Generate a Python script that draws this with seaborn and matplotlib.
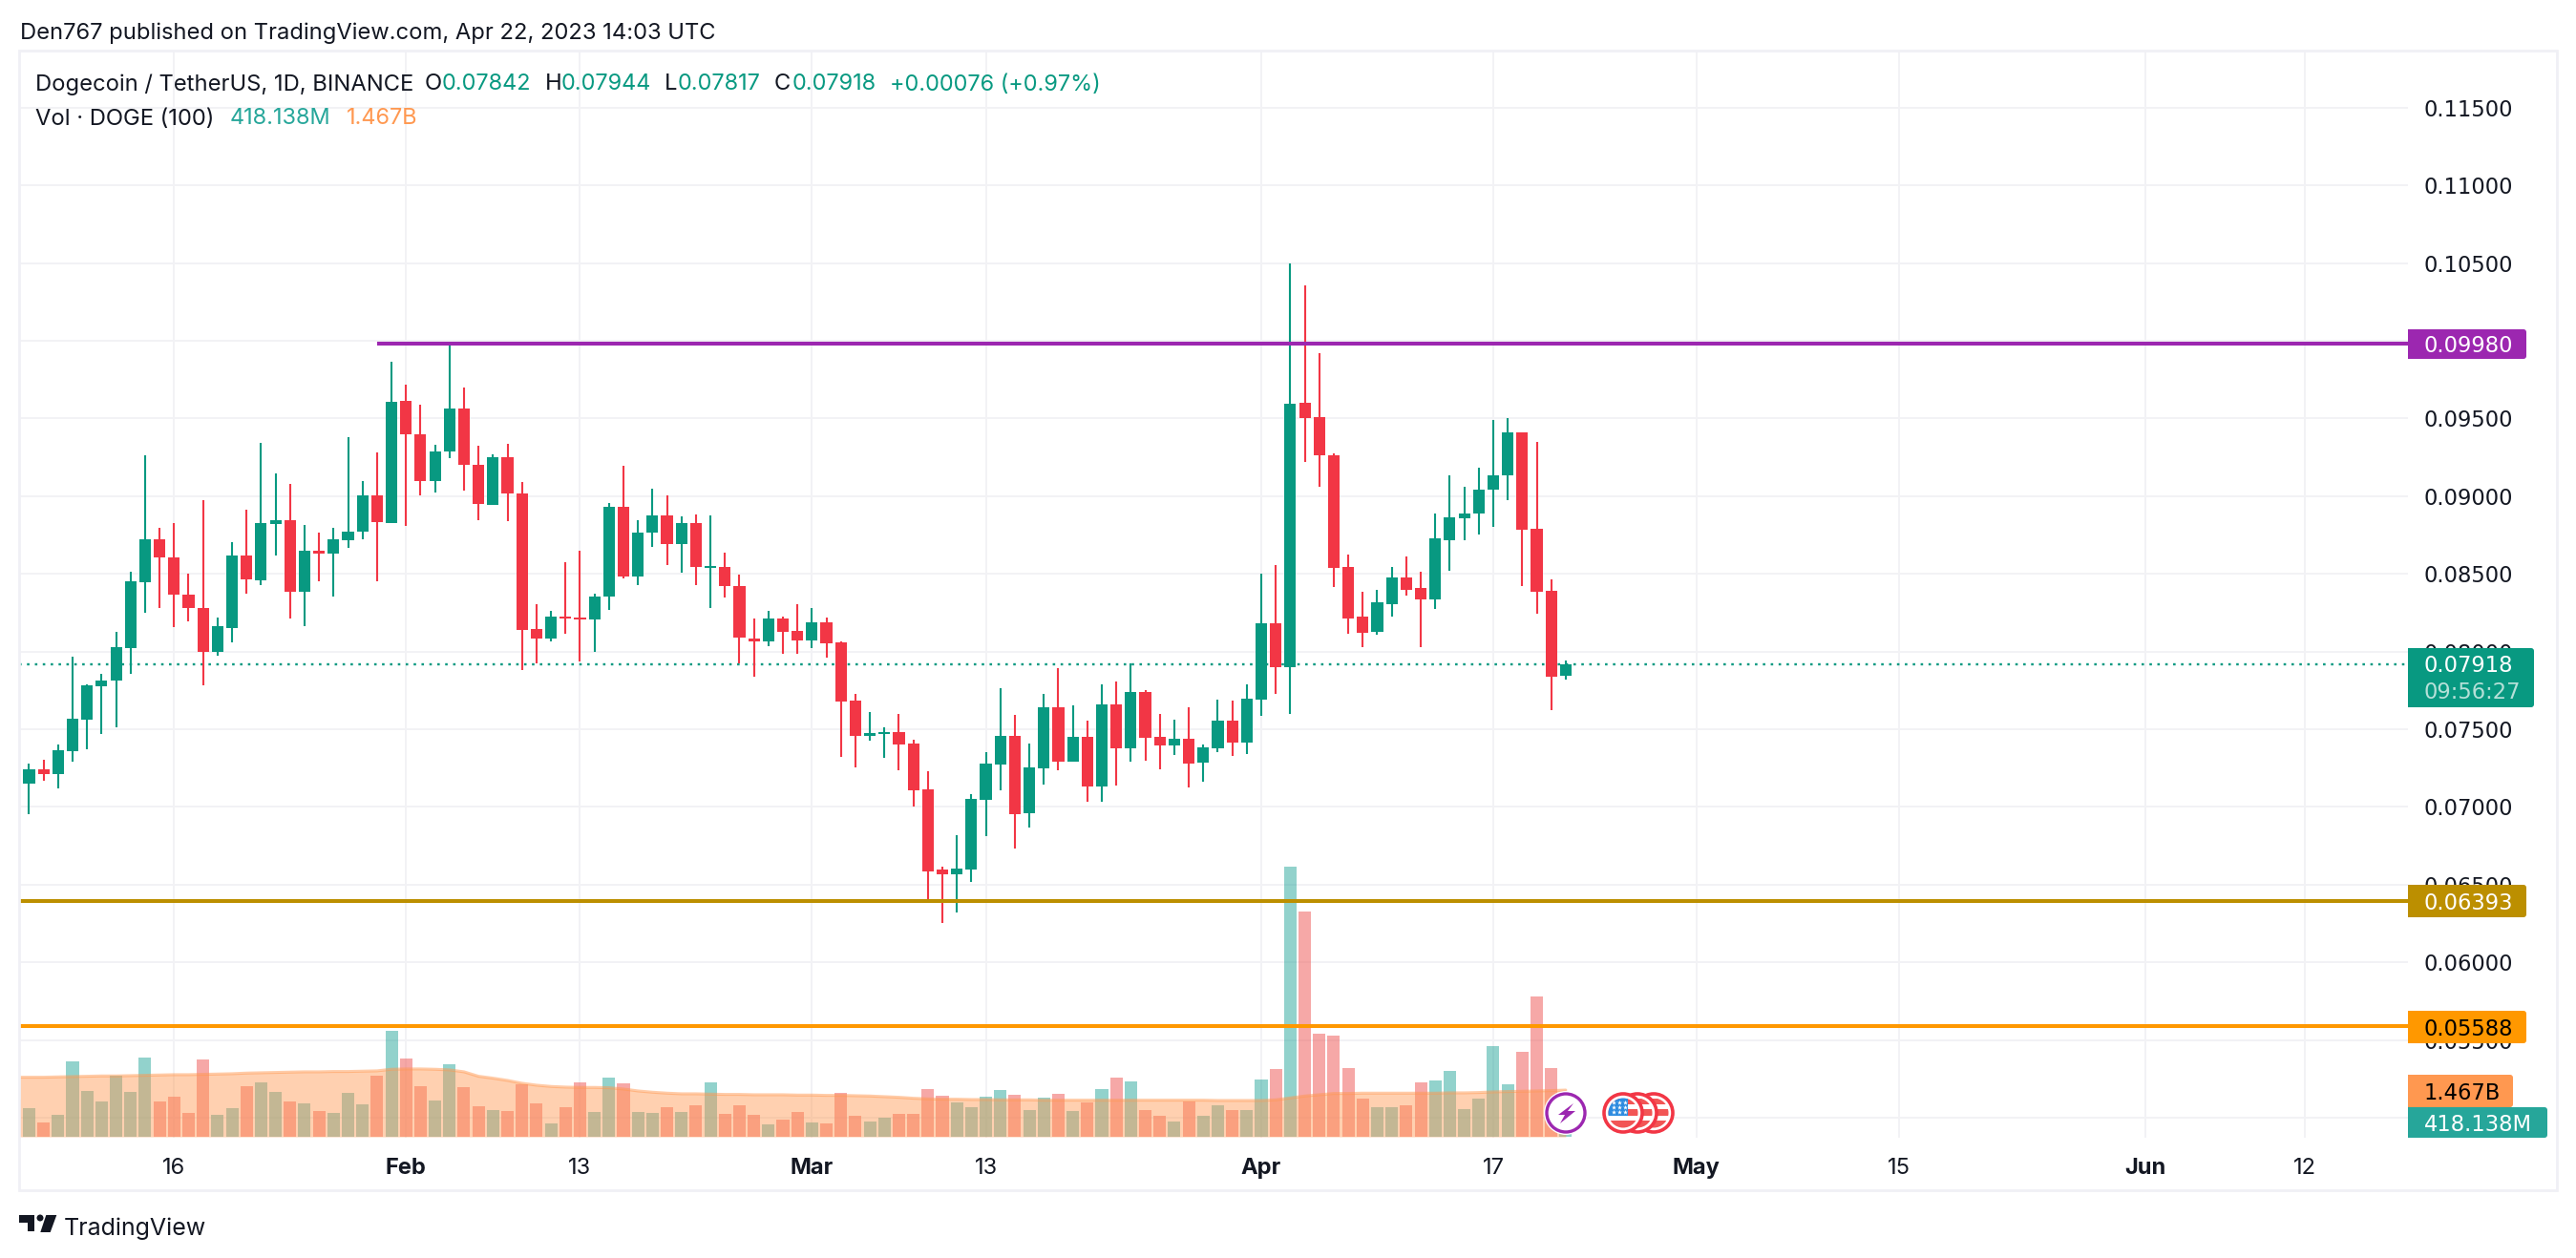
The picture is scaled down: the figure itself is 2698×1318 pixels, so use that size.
import numpy as np
import pandas as pd
import matplotlib
matplotlib.use("Agg")
import matplotlib.pyplot as plt
from matplotlib.patches import Circle, FancyBboxPatch, Polygon, Rectangle
import seaborn as sns

# daily DOGE/USDT candles (day 0 = Jan 6)
opens = [0.07147, 0.07241, 0.07213, 0.07360, 0.07563, 0.07777, 0.07812, 0.08023, 0.08445, 0.08725, 0.08608, 0.08369, 0.08283, 0.07998, 0.08150, 0.08615, 0.08460, 0.08819, 0.08847, 0.08384, 0.08651, 0.08628, 0.08714, 0.08770, 0.09007, 0.08824,
         0.09614, 0.09400, 0.09096, 0.09286, 0.09566, 0.09202, 0.08946, 0.09253, 0.09014, 0.08143, 0.08084, 0.08222, 0.08216, 0.08206, 0.08354, 0.08928, 0.08481, 0.08765, 0.08877, 0.08689, 0.08828, 0.08536, 0.08546, 0.08424, 0.08086, 0.08068, 0.08215, 0.08135,
         0.08074, 0.08190, 0.08056, 0.07682, 0.07455, 0.07467, 0.07479, 0.07406, 0.07111, 0.06596, 0.06566, 0.06596, 0.07044, 0.07271, 0.07455, 0.06958, 0.07246, 0.07639, 0.07289, 0.07449, 0.07130, 0.07657, 0.07375, 0.07737, 0.07449, 0.07393, 0.07436, 0.07283, 0.07375, 0.07553, 0.07412,
         0.07691, 0.08180, 0.07899, 0.09603, 0.09511, 0.09265, 0.08542, 0.08222, 0.08129, 0.08307, 0.08474, 0.08406, 0.08338, 0.08719, 0.08860, 0.08886, 0.09039, 0.09132, 0.09412, 0.08787, 0.08388, 0.07842]
highs = [0.07279, 0.07302, 0.07401, 0.07965, 0.07787, 0.07856, 0.08125, 0.08516, 0.09263, 0.08793, 0.08829, 0.08504, 0.08976, 0.08216, 0.08702, 0.08910, 0.09345, 0.09149, 0.09080, 0.08816, 0.08768, 0.08798, 0.09380, 0.09098, 0.09284, 0.09865,
         0.09718, 0.09588, 0.09332, 0.09972, 0.09700, 0.09327, 0.09271, 0.09337, 0.09093, 0.08303, 0.08260, 0.08577, 0.08646, 0.08369, 0.08958, 0.09197, 0.08847, 0.09050, 0.09002, 0.08871, 0.08883, 0.08877, 0.08638, 0.08497, 0.08215, 0.08264, 0.08227, 0.08307,
         0.08283, 0.08221, 0.08062, 0.07725, 0.07608, 0.07510, 0.07596, 0.07430, 0.07228, 0.06615, 0.06817, 0.07081, 0.07350, 0.07761, 0.07590, 0.07406, 0.07725, 0.07890, 0.07651, 0.07553, 0.07786, 0.07810, 0.07921, 0.07749, 0.07596, 0.07559, 0.07639, 0.07400, 0.07688, 0.07682, 0.07786,
         0.08498, 0.08559, 0.10500, 0.10353, 0.09917, 0.09272, 0.08621, 0.08382, 0.08395, 0.08542, 0.08610, 0.08511, 0.08886, 0.09136, 0.09057, 0.09180, 0.09487, 0.09500, 0.09412, 0.09351, 0.08467, 0.07944]
lows = [0.06951, 0.07167, 0.07119, 0.07294, 0.07370, 0.07469, 0.07513, 0.07856, 0.08247, 0.08277, 0.08155, 0.08191, 0.07782, 0.07970, 0.08056, 0.08369, 0.08430, 0.08620, 0.08211, 0.08161, 0.08450, 0.08351, 0.08669, 0.08725, 0.08450, 0.08824,
        0.08811, 0.09007, 0.09024, 0.09245, 0.09037, 0.08847, 0.08941, 0.08841, 0.07881, 0.07922, 0.08064, 0.08112, 0.07934, 0.08000, 0.08265, 0.08468, 0.08430, 0.08676, 0.08559, 0.08509, 0.08430, 0.08283, 0.08350, 0.07921, 0.07835, 0.08037, 0.07988, 0.07988,
        0.08019, 0.07958, 0.07320, 0.07252, 0.07424, 0.07314, 0.07234, 0.07001, 0.06394, 0.06253, 0.06320, 0.06517, 0.06811, 0.07105, 0.06731, 0.06866, 0.07142, 0.07234, 0.07289, 0.07032, 0.07032, 0.07136, 0.07289, 0.07295, 0.07240, 0.07332, 0.07124, 0.07160, 0.07350, 0.07326, 0.07338,
        0.07584, 0.07726, 0.07598, 0.09217, 0.09057, 0.08412, 0.08112, 0.08031, 0.08105, 0.08222, 0.08358, 0.08031, 0.08276, 0.08522, 0.08713, 0.08750, 0.08805, 0.08972, 0.08419, 0.08246, 0.07621, 0.07817]
closes = [0.07241, 0.07213, 0.07365, 0.07566, 0.07782, 0.07812, 0.08026, 0.08450, 0.08725, 0.08603, 0.08366, 0.08280, 0.07998, 0.08161, 0.08615, 0.08463, 0.08824, 0.08847, 0.08384, 0.08651, 0.08628, 0.08720, 0.08773, 0.09007, 0.08831, 0.09609,
          0.09395, 0.09096, 0.09289, 0.09566, 0.09200, 0.08948, 0.09253, 0.09017, 0.08140, 0.08084, 0.08222, 0.08214, 0.08206, 0.08356, 0.08928, 0.08481, 0.08768, 0.08877, 0.08692, 0.08828, 0.08542, 0.08550, 0.08419, 0.08088, 0.08068, 0.08215, 0.08129, 0.08074,
          0.08190, 0.08050, 0.07676, 0.07455, 0.07473, 0.07479, 0.07400, 0.07105, 0.06584, 0.06566, 0.06603, 0.07050, 0.07277, 0.07455, 0.06952, 0.07252, 0.07639, 0.07289, 0.07449, 0.07130, 0.07657, 0.07375, 0.07737, 0.07442, 0.07393, 0.07436, 0.07277, 0.07381, 0.07553, 0.07412, 0.07694,
          0.08180, 0.07899, 0.09597, 0.09504, 0.09261, 0.08537, 0.08215, 0.08123, 0.08314, 0.08474, 0.08399, 0.08338, 0.08726, 0.08866, 0.08886, 0.09044, 0.09136, 0.09412, 0.08781, 0.08382, 0.07836, 0.07918]

# volume in billions, one extra bar on the left that is cut by the pane
vol_days = np.arange(-1, 107)
volumes = [1.17, 0.90, 0.45, 0.69, 2.37, 1.44, 1.11, 1.92, 1.41, 2.49, 1.11, 1.26, 0.75, 2.43, 0.69, 0.90, 1.59, 1.71, 1.41, 1.11, 1.05, 0.81, 0.75, 1.38, 1.02, 1.92, 3.33,
           2.46, 1.59, 1.14, 2.28, 1.56, 0.96, 0.84, 0.81, 1.65, 1.05, 0.42, 0.93, 1.71, 0.78, 1.86, 1.68, 0.78, 0.75, 0.93, 0.78, 0.99, 1.71, 0.72, 0.99, 0.69, 0.39, 0.54, 0.78,
           0.45, 0.42, 1.38, 0.66, 0.48, 0.60, 0.72, 0.72, 1.50, 1.29, 1.08, 0.93, 1.26, 1.47, 1.32, 0.84, 1.23, 1.35, 0.81, 1.08, 1.50, 1.86, 1.74, 0.84, 0.66, 0.48, 1.11, 0.66, 0.99, 0.84, 0.84,
           1.80, 2.13, 8.48, 7.07, 3.24, 3.18, 2.16, 1.20, 0.93, 0.93, 0.99, 1.71, 1.77, 2.07, 0.87, 1.20, 2.85, 1.65, 2.67, 4.41, 2.16, 0.418]
vol_ma = [1.87, 1.87, 1.87, 1.88, 1.89, 1.90, 1.91, 1.91, 1.92, 1.93, 1.94, 1.95, 1.95, 1.96, 1.97, 1.98, 2.00, 2.01, 2.02, 2.03, 2.04, 2.04, 2.05, 2.05, 2.06, 2.07, 2.12,
          2.13, 2.13, 2.12, 2.10, 2.04, 1.90, 1.84, 1.77, 1.68, 1.62, 1.58, 1.56, 1.55, 1.55, 1.54, 1.50, 1.44, 1.40, 1.37, 1.35, 1.35, 1.34, 1.33, 1.33, 1.32, 1.32, 1.32, 1.31,
          1.31, 1.30, 1.30, 1.29, 1.28, 1.26, 1.24, 1.21, 1.19, 1.18, 1.18, 1.17, 1.17, 1.16, 1.16, 1.16, 1.15, 1.15, 1.15, 1.15, 1.15, 1.15, 1.15, 1.15, 1.15, 1.15, 1.15, 1.15, 1.14, 1.14, 1.14,
          1.14, 1.16, 1.22, 1.28, 1.32, 1.36, 1.36, 1.37, 1.37, 1.37, 1.37, 1.37, 1.37, 1.38, 1.38, 1.39, 1.41, 1.42, 1.43, 1.44, 1.45, 1.467]

tick_days = [10, 26, 38, 54, 66, 85, 101, 115, 129, 146, 157]
tick_labels = ["16", "Feb", "13", "Mar", "13", "Apr", "17", "May", "15", "Jun", "12"]
month_labels = ["Feb", "Mar", "Apr", "May", "Jun"]
price_ticks = [0.05, 0.055, 0.06, 0.065, 0.07, 0.075, 0.08, 0.085, 0.09, 0.095, 0.10, 0.105, 0.11, 0.115]

last_price = 0.07918
level_purple = 0.09980
level_purple_start = 24
level_gold = 0.06393
level_orange = 0.05588

GREEN = "#089981"
RED = "#F23645"
INK = "#131722"
GRID = "#F2F2F5"
SCALE_FONT = "DejaVu Sans"

W, H = 2698, 1318
L, T, R, B = 20, 53, 2522, 1192  # pane edges in px
DAY_LIM = (-0.69, 164.1)

sns.set_style("white")
plt.rcParams["font.family"] = ["Inter", "DejaVu Sans"]

candles = pd.DataFrame({"day": np.arange(len(opens)), "open": opens, "high": highs, "low": lows, "close": closes})
candles["up"] = candles["close"] >= candles["open"]
candles["color"] = candles["up"].map({True: GREEN, False: RED})

vol_df = pd.DataFrame({"day": vol_days, "volume": volumes, "ma": vol_ma})
vol_df["side"] = ["down"] + ["up" if u else "down" for u in candles["up"]]

fig = plt.figure(figsize=(W / 100, H / 100), dpi=100, facecolor="white")
rect = [L / W, 1 - B / H, (R - L) / W, (B - T) / H]

# bottom layer: scales and grid
ax = fig.add_axes(rect)
price_lim = (0.04871, 0.11867)
ax.set_ylim(price_lim)
ax.set_xlim(DAY_LIM)
for s in ax.spines.values():
    s.set_visible(False)

# volume layer
axv = ax.twinx()
sns.barplot(data=vol_df, x="day", y="volume", hue="side", hue_order=["up", "down"],
            palette={"up": "#26A69A", "down": "#EF5350"}, native_scale=True, dodge=False,
            width=0.86, alpha=0.5, saturation=1, linewidth=0, legend=False, ax=axv)
axv.fill_between(vol_df["day"], 0, vol_df["ma"], color="#FF9850", alpha=0.45, linewidth=0)
sns.lineplot(data=vol_df, x="day", y="ma", color="#FF9850", alpha=0.5, linewidth=2.2, ax=axv)
axv.set_ylim(-0.03, 34.1)
axv.set_axis_off()

# candles and levels on top
axp = ax.twinx()
axp.set_ylim(price_lim)
axp.vlines(candles["day"], candles["low"], candles["high"], colors=candles["color"], linewidth=1.5, zorder=3)
axp.bar(candles["day"], (candles["close"] - candles["open"]).abs(), bottom=candles[["open", "close"]].min(axis=1),
        width=0.8, color=candles["color"], linewidth=0, zorder=4)
axp.axhline(last_price, color=GREEN, linewidth=1.7, linestyle=(0, (1.1, 2.4)), zorder=2)
axp.hlines(level_purple, level_purple_start, DAY_LIM[1], color="#9C27B0", linewidth=2.9, zorder=5)
axp.axhline(level_gold, color="#BC8F00", linewidth=2.9, zorder=5)
axp.axhline(level_orange, color="#FF9800", linewidth=2.9, zorder=5)
axp.set_axis_off()

ax.set_xticks(tick_days)
ax.set_xticklabels(tick_labels)
ax.set_yticks(price_ticks)
ax.set_yticklabels([f"{p:.5f}" for p in price_ticks])
ax.yaxis.tick_right()
ax.tick_params(axis="both", length=0, labelsize=17, labelcolor=INK)
ax.tick_params(axis="x", pad=15)
ax.tick_params(axis="y", pad=12, labelsize=16.3)
for lab in ax.get_yticklabels():
    lab.set_fontfamily(SCALE_FONT)
for lab in ax.get_xticklabels():
    if lab.get_text() in month_labels:
        lab.set_fontweight("bold")
ax.grid(True, color=GRID, linewidth=1.4)
ax.set_axisbelow(True)
ax.set_xlim(DAY_LIM)

# overlay in pixel coordinates: border, price labels, header, logo
ov = fig.add_axes([0, 0, 1, 1])
ov.set_xlim(0, W)
ov.set_ylim(H, 0)
ov.set_axis_off()
ov.add_patch(Rectangle((L, T), 2678 - L, 1247 - T, fill=False, edgecolor="#F0F0F5", linewidth=2))


def tag(x0, x1, y0, y1, color):
    ov.add_patch(FancyBboxPatch((x0, y0), x1 - x0, y1 - y0, boxstyle="round,pad=0,rounding_size=3",
                                facecolor=color, edgecolor="none", zorder=6))
    ov.add_patch(Rectangle((x0, y0), 8, y1 - y0, facecolor=color, edgecolor="none", zorder=6))


def label(x, y, s, color=INK, size=17.1, **kw):
    ov.text(x, y, s, color=color, fontsize=size, va="center_baseline", ha="left", zorder=7, **kw)


def scale_label(y, s, color):
    label(2539, y, s, color, size=16.3, family=SCALE_FONT)


tag(R, 2654, 679, 741, GREEN)
scale_label(695, f"{last_price:.5f}", "white")
scale_label(723, "09:56:27", "#B5E0D8")
tag(R, 2646, 927, 961, "#BC8F00")
scale_label(944, f"{level_gold:.5f}", "white")
tag(R, 2646, 1059, 1093, "#FF9800")
scale_label(1076, f"{level_orange:.5f}", "black")
tag(R, 2646, 345, 376, "#9C27B0")
scale_label(360, f"{level_purple:.5f}", "white")
tag(R, 2632, 1126, 1160, "#FF9850")
scale_label(1143, "1.467B", "black")
tag(R, 2668, 1160, 1192, "#26A69A")
scale_label(1176, "418.138M", "white")

label(21, 32, "Den767 published on TradingView.com, Apr 22, 2023 14:03 UTC")
label(37, 86, "Dogecoin / TetherUS, 1D, BINANCE")
for x, s in [(445, "O"), (571, "H"), (696, "L"), (811, "C")]:
    label(x, 86, s)
for x, s in [(463, "0.07842"), (588, "0.07944"), (710, "0.07817"), (830, "0.07918"), (932, "+0.00076 (+0.97%)")]:
    label(x, 86, s, GREEN, size=16.9)
label(37, 122, "Vol · DOGE (100)")
label(241, 122, "418.138M", "#26A69A", size=16.9)
label(363, 122, "1.467B", "#FF9850", size=16.9)

# event icons sitting on the time scale
ov.add_patch(Circle((1640, 1166), 23, facecolor="white", edgecolor="none", zorder=6))
ov.add_patch(Circle((1640, 1166), 20, facecolor="white", edgecolor="#9C27B0", linewidth=2.4, zorder=6))
ov.add_patch(Polygon([[1648, 1156], [1632, 1168], [1639, 1168], [1634, 1177], [1650, 1164], [1642, 1164]],
                     facecolor="#9C27B0", edgecolor="none", zorder=7))
for cx in [1732, 1715, 1700]:
    ov.add_patch(Circle((cx, 1166), 20, facecolor="white", edgecolor=RED, linewidth=2.6, zorder=6))
    inner = Circle((cx, 1166), 15.5, facecolor="none", edgecolor="none", zorder=6)
    ov.add_patch(inner)
    for y0, hgt in [(1151, 6), (1162, 7), (1174, 9)]:
        band = Rectangle((cx - 20, y0), 40, hgt, facecolor="#F25555", edgecolor="none", zorder=6)
        ov.add_patch(band)
        band.set_clip_path(inner)
canton = Rectangle((1684, 1150), 21, 19, facecolor="#2E8CE0", edgecolor="none", zorder=6)
ov.add_patch(canton)
canton.set_clip_path(inner)
star_x, star_y = np.meshgrid([1690, 1696, 1702], [1155, 1160, 1165])
ov.scatter(star_x.ravel(), star_y.ravel(), s=14, marker="*", color="white", linewidths=0, zorder=7)

# logo
ov.add_patch(Polygon([[20, 1273], [36, 1273], [36, 1290], [29, 1290], [29, 1281], [20, 1281]], facecolor=INK, edgecolor="none"))
ov.add_patch(Circle((42, 1276), 3.5, facecolor=INK, edgecolor="none"))
ov.add_patch(Polygon([[48.3, 1273], [59.3, 1273], [52.7, 1291], [42.3, 1291]], facecolor=INK, edgecolor="none"))
label(67, 1285, "TradingView", size=18)

fig.savefig("out.png", dpi=100)
